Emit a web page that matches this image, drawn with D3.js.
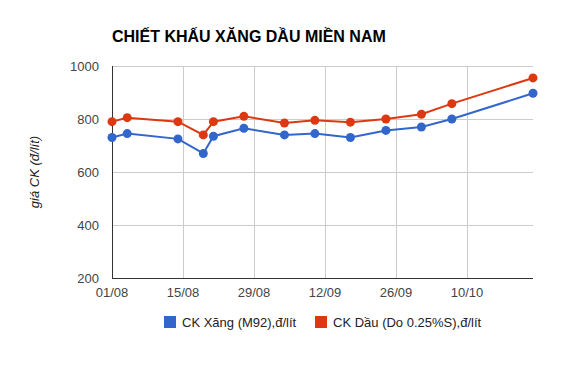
<!DOCTYPE html>
<html><head><meta charset="utf-8">
<script src="https://cdn.jsdelivr.net/npm/d3@7/dist/d3.min.js"></script>
<style>body{margin:0;background:#fff;}svg{display:block;font-family:"Liberation Sans",Arial,sans-serif;}</style>
</head><body>
<svg id="c" width="561" height="369"></svg>
<script>
const dates = ["2013-08-01","2013-08-04","2013-08-14","2013-08-19","2013-08-21","2013-08-27","2013-09-04","2013-09-10","2013-09-17","2013-09-24","2013-10-01","2013-10-07","2013-10-23"];
const xang = [730, 745, 725, 670, 735, 765, 740, 745, 730, 757, 770, 800, 897];
const dau  = [790, 805, 790, 740, 790, 810, 785, 795, 788, 800, 818, 858, 955];
const seriesNames = ["CK Xăng (M92),đ/lít", "CK Dầu (Do 0.25%S),đ/lít"];
const colors = ["#3366cc", "#dc3912"];
const xTicks = ["2013-08-01","2013-08-15","2013-08-29","2013-09-12","2013-09-26","2013-10-10"];
const yTicks = [200, 400, 600, 800, 1000];
const title = "CHIẾT KHẤU XĂNG DẦU MIỀN NAM";
const yTitle = "giá CK (đ/lít)";

const parse = d3.utcParse("%Y-%m-%d");
const fmt = d3.utcFormat("%d/%m");
const svg = d3.select("#c");
const L = 112, R = 533, T = 66, B = 278;
const x = d3.scaleUtc().domain([parse(dates[0]), parse(dates[dates.length-1])]).range([L, R]);
const y = d3.scaleLinear().domain([200, 1000]).range([B, T]);

// grid
svg.append("g").selectAll("line").data(yTicks).join("line")
  .attr("x1", L).attr("x2", R).attr("y1", d => y(d)).attr("y2", d => y(d))
  .attr("stroke", "#cccccc").attr("stroke-width", 1).attr("shape-rendering","crispEdges");
svg.append("g").selectAll("line").data(xTicks.slice(1)).join("line")
  .attr("x1", d => x(parse(d))).attr("x2", d => x(parse(d))).attr("y1", T).attr("y2", B)
  .attr("stroke", "#cccccc").attr("stroke-width", 1).attr("shape-rendering","crispEdges");

// axes lines
svg.append("line").attr("x1", L).attr("x2", L).attr("y1", T).attr("y2", B).attr("stroke", "#333").attr("shape-rendering","crispEdges");
svg.append("line").attr("x1", L).attr("x2", R).attr("y1", B).attr("y2", B).attr("stroke", "#333").attr("shape-rendering","crispEdges");

// tick labels
svg.append("g").selectAll("text").data(yTicks).join("text")
  .attr("x", L - 13).attr("y", d => y(d)).attr("dy", "0.35em").attr("text-anchor", "end")
  .attr("font-size", 13).attr("fill", "#444").text(d => d);
svg.append("g").selectAll("text").data(xTicks).join("text")
  .attr("x", d => x(parse(d))).attr("y", B + 19).attr("text-anchor", "middle")
  .attr("font-size", 13).attr("fill", "#444").text(d => fmt(parse(d)));

// title
svg.append("text").attr("x", L).attr("y", 42).attr("font-size", 16).attr("font-weight", "bold").attr("fill", "#000").text(title);
svg.append("text").attr("transform", `translate(39,${(T+B)/2}) rotate(-90)`).attr("text-anchor", "middle")
  .attr("font-size", 13).attr("font-style", "italic").attr("fill", "#222").text(yTitle);

// series
const data = [xang, dau];
const line = d3.line().x((d, i) => x(parse(dates[i]))).y(d => y(d));
data.forEach((s, k) => {
  svg.append("path").datum(s).attr("d", line).attr("fill", "none").attr("stroke", colors[k]).attr("stroke-width", 2);
  svg.append("g").selectAll("circle").data(s).join("circle")
    .attr("cx", (d, i) => x(parse(dates[i]))).attr("cy", d => y(d)).attr("r", 4.5).attr("fill", colors[k]);
});

// legend
const lx = [164, 315];
seriesNames.forEach((n, k) => {
  svg.append("rect").attr("x", lx[k]).attr("y", 316).attr("width", 12).attr("height", 12).attr("fill", colors[k]);
  svg.append("text").attr("x", lx[k] + 18).attr("y", 322).attr("dy", "0.35em").attr("font-size", 13).attr("fill", "#222").text(n);
});
</script>
</body></html>
